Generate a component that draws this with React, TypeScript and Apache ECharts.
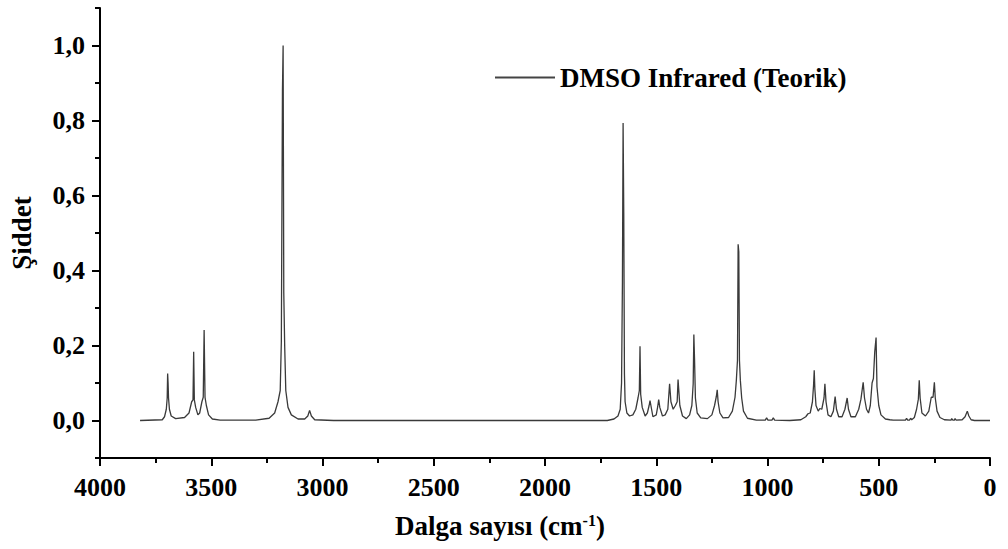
import React, { useEffect, useRef } from "react";
import * as echarts from "echarts";

// Wavenumber (cm^-1) and intensity readings of the DMSO theoretical IR spectrum
const wavenumbers = [
  3820, 3720, 3710, 3702, 3698, 3696, 3694, 3692, 3688, 3680, 3660, 3620, 3600, 3588, 3582, 3579, 3576, 3570, 3560,
  3552, 3542, 3536, 3532, 3528, 3522, 3512, 3495, 3460, 3300, 3240, 3215, 3200, 3190, 3185, 3180, 3177, 3174, 3170,
  3165, 3155, 3140, 3110, 3080, 3066, 3058, 3050, 3035, 2950, 1720, 1690, 1672, 1662, 1656, 1652, 1649, 1646, 1643,
  1640, 1632, 1620, 1605, 1592, 1582, 1576, 1573, 1570, 1563, 1550, 1540, 1532, 1528, 1524, 1515, 1500, 1494, 1489,
  1484, 1472, 1460, 1448, 1440, 1434, 1424, 1414, 1406, 1402, 1399, 1394, 1382, 1365, 1350, 1340, 1334, 1331, 1328,
  1324, 1316, 1300, 1270, 1250, 1238, 1230, 1226, 1222, 1214, 1200, 1175, 1158, 1146, 1140, 1135, 1132, 1129, 1126,
  1122, 1116, 1108, 1090, 1050, 1010, 1004, 998, 980, 974, 968, 900, 850, 828, 818, 808, 798, 793, 790, 787, 782, 772,
  765, 756, 746, 742, 737, 728, 715, 704, 696, 690, 680, 665, 652, 642, 636, 625, 605, 590, 580, 570, 564, 555, 546,
  538, 530, 524, 518, 512, 508, 500, 490, 470, 450, 435, 380, 375, 370, 362, 357, 352, 340, 330, 322, 318, 314, 306,
  290, 275, 264, 256, 250, 246, 238, 225, 205, 175, 172, 167, 160, 157, 152, 125, 112, 102, 95, 85, 70, 0,
];
const intensities = [
  0, 0.002, 0.01, 0.03, 0.06, 0.125, 0.1, 0.06, 0.03, 0.012, 0.005, 0.008, 0.02, 0.05, 0.055, 0.183, 0.055, 0.035, 0.015,
  0.02, 0.05, 0.062, 0.241, 0.062, 0.04, 0.015, 0.004, 0.001, 0.001, 0.006, 0.02, 0.05, 0.08, 0.21, 0.88, 1.0, 0.34, 0.2,
  0.08, 0.035, 0.015, 0.004, 0.004, 0.012, 0.027, 0.012, 0.002, 0, 0, 0.004, 0.012, 0.03, 0.1, 0.37, 0.793, 0.553, 0.125,
  0.05, 0.02, 0.012, 0.015, 0.03, 0.06, 0.08, 0.198, 0.07, 0.035, 0.012, 0.02, 0.04, 0.053, 0.04, 0.01, 0.015, 0.035, 0.056,
  0.035, 0.012, 0.015, 0.03, 0.098, 0.05, 0.03, 0.04, 0.05, 0.109, 0.083, 0.04, 0.012, 0.005, 0.015, 0.04, 0.098, 0.229, 0.166,
  0.06, 0.02, 0.007, 0.005, 0.015, 0.04, 0.064, 0.082, 0.05, 0.02, 0.007, 0.008, 0.025, 0.062, 0.107, 0.16, 0.47, 0.45, 0.16,
  0.107, 0.06, 0.025, 0.006, 0.001, 0.001, 0.007, 0.001, 0.001, 0.007, 0.001, 0, 0.002, 0.01, 0.018, 0.02, 0.05, 0.094, 0.134, 0.083, 0.04, 0.025,
  0.032, 0.03, 0.06, 0.098, 0.05, 0.015, 0.01, 0.025, 0.064, 0.03, 0.01, 0.01, 0.03, 0.06, 0.03, 0.01, 0.01, 0.03, 0.057, 0.102, 0.06, 0.03, 0.02,
  0.04, 0.1, 0.112, 0.183, 0.221, 0.09, 0.04, 0.015, 0.004, 0.002, 0.001, 0.001, 0.006, 0.001, 0.001, 0.006, 0.002, 0.008, 0.03, 0.057, 0.107, 0.06, 0.02,
  0.012, 0.025, 0.062, 0.062, 0.102, 0.06, 0.025, 0.008, 0.002, 0.001, 0.005, 0.001, 0.001, 0.005, 0.001, 0.002, 0.01, 0.025, 0.012, 0.002, 0, 0,
];
const yLabelValues = [0, 0.2, 0.4, 0.6, 0.8, 1.0];
const yMinorValues = [-0.1, 0.1, 0.3, 0.5, 0.7, 0.9, 1.1];
const seriesName = "DMSO Infrared (Teorik)";

const FONT = "'Liberation Serif', 'Times New Roman', serif";

export default function App() {
  const ref = useRef<HTMLDivElement>(null);
  useEffect(() => {
    if (!ref.current) return;
    const chart = echarts.init(ref.current, null, { renderer: "svg" });
    const data = wavenumbers.map((w, i) => [w, intensities[i]]);
    const labelStyle = { color: "#000", fontFamily: FONT, fontWeight: "bold" as const, fontSize: 26 };
    const gridBox = { left: 100, right: 18, top: 8, bottom: 91, containLabel: false };
    chart.setOption({
      animation: false,
      backgroundColor: "#fff",
      grid: [gridBox, gridBox],
      legend: {
        show: true,
        left: 490,
        top: 59,
        itemWidth: 60,
        itemHeight: 14,
        itemGap: 8,
        icon: "path://M0,6 L60,6 L60,8 L0,8 Z",
        data: [{ name: seriesName, itemStyle: { color: "#444" } }],
        textStyle: { color: "#000", fontFamily: FONT, fontWeight: "bold", fontSize: 27 },
      },
      xAxis: [
        {
          type: "value",
          gridIndex: 0,
          min: 0,
          max: 4000,
          interval: 500,
          inverse: true,
          name: "Dalga sayısı (cm{sup|-1})",
          nameLocation: "middle",
          nameGap: 54,
          nameTextStyle: {
            ...labelStyle,
            fontSize: 27,
            padding: [0, 90, 0, 0],
            rich: { sup: { fontFamily: FONT, fontWeight: "bold", fontSize: 16, verticalAlign: "top", padding: [0, 0, 12, 0], color: "#000" } },
          },
          axisLine: { show: true, onZero: false, lineStyle: { color: "#000", width: 2 } },
          axisTick: { show: true, inside: false, length: 8, lineStyle: { color: "#000", width: 2 } },
          minorTick: { show: true, splitNumber: 2, length: 5, lineStyle: { color: "#000", width: 2 } },
          axisLabel: { ...labelStyle, margin: 16, formatter: (v: number) => String(v) },
          splitLine: { show: false },
          minorSplitLine: { show: false },
        },
        {
          type: "value",
          gridIndex: 1,
          min: 0,
          max: 4000,
          show: false,
        },
      ],
      yAxis: [
        {
          type: "value",
          gridIndex: 0,
          min: -0.1,
          max: 1.1,
          position: "left",
          name: "Şiddet",
          nameLocation: "middle",
          nameGap: 65,
          nameRotate: 90,
          nameTextStyle: { ...labelStyle, fontSize: 27 },
          axisLine: { show: true, onZero: false, lineStyle: { color: "#000", width: 2 } },
          axisTick: { show: true, inside: false, length: 8, customValues: yLabelValues, lineStyle: { color: "#000", width: 2 } },
          axisLabel: {
            ...labelStyle,
            margin: 15,
            customValues: yLabelValues,
            formatter: (v: number) => v.toFixed(1).replace(".", ","),
          },
          splitLine: { show: false },
        },
        {
          type: "value",
          gridIndex: 1,
          min: -0.1,
          max: 1.1,
          position: "left",
          axisLine: { show: false, onZero: false },
          axisTick: { show: true, inside: false, length: 5, customValues: yMinorValues, lineStyle: { color: "#000", width: 2 } },
          axisLabel: { show: false },
          splitLine: { show: false },
        },
      ],
      series: [
        {
          name: seriesName,
          type: "line",
          data,
          xAxisIndex: 0,
          yAxisIndex: 0,
          symbol: "none",
          showSymbol: false,
          lineStyle: { color: "#3a3a3a", width: 1.3 },
          itemStyle: { color: "#3a3a3a" },
        },
      ],
    });
    return () => chart.dispose();
  }, []);
  return <div ref={ref} style={{ position: "fixed", left: 0, top: 0, width: 1008, height: 549, background: "#fff" }} />;
}
